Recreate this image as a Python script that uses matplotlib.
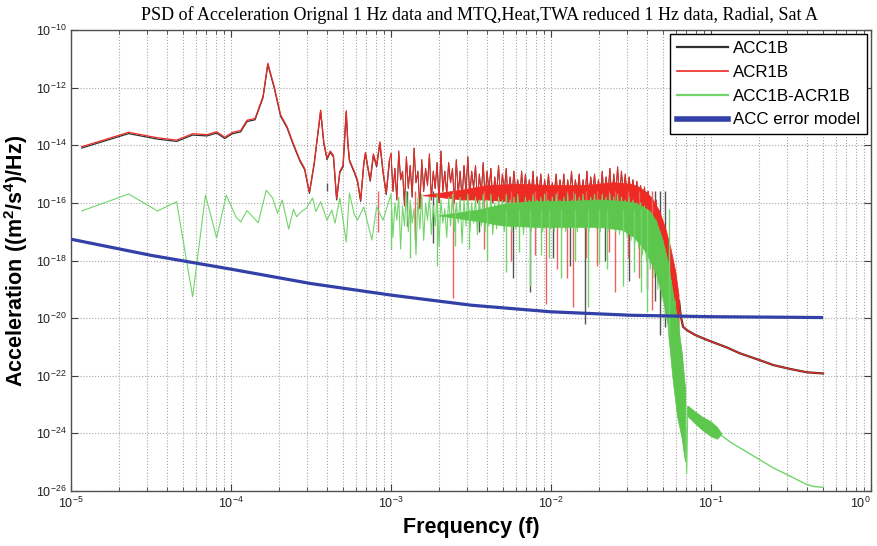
import numpy as np
import matplotlib
matplotlib.use("Agg")
import matplotlib.pyplot as plt
from matplotlib.ticker import LogLocator, FixedLocator, NullFormatter

plt.rcParams['font.family'] = ['Liberation Sans', 'DejaVu Sans']
plt.rcParams['mathtext.fontset'] = 'custom'
plt.rcParams['mathtext.rm'] = 'Liberation Sans'
plt.rcParams['mathtext.bf'] = 'Liberation Sans:bold'
plt.rcParams['mathtext.it'] = 'Liberation Sans:italic'

# ---------------- data (log10 of frequency [Hz] and log10 of PSD) ----------------
# ACR1B / ACC1B low-frequency part
acr1b_line_lf = [-4.933, -4.64, -4.46, -4.34, -4.24, -4.15, -4.09, -4.04, -3.99, -3.94,
                 -3.90, -3.85, -3.80, -3.77, -3.73, -3.69, -3.65, -3.61, -3.57, -3.54,
                 -3.51, -3.48, -3.44, -3.42, -3.40, -3.38, -3.36, -3.34, -3.32, -3.30,
                 -3.28, -3.27, -3.26, -3.23, -3.21, -3.19, -3.17, -3.16, -3.14, -3.13,
                 -3.11, -3.09, -3.07, -3.05, -3.03, -3.01]
acr1b_line_lp = [-14.05, -13.55, -13.74, -13.82, -13.60, -13.63, -13.53, -13.72, -13.55, -13.49,
                 -13.13, -13.07, -12.30, -11.15, -11.97, -12.95, -13.35, -13.95, -14.50, -14.80,
                 -15.62, -14.60, -12.78, -13.90, -14.45, -14.20, -14.35, -15.85, -14.90, -14.70,
                 -12.80, -13.90, -14.50, -14.90, -15.20, -15.90, -14.60, -14.25, -14.90, -15.20,
                 -14.30, -14.70, -13.88, -14.90, -15.66, -14.50]

# dense noisy region, shared frequency nodes (log10 Hz); values alternate peak / trough
dense_lf = [-3.000, -2.988, -2.976, -2.964, -2.952, -2.940, -2.928, -2.916, -2.904, -2.892,
            -2.880, -2.868, -2.856, -2.844, -2.832, -2.820, -2.808, -2.796, -2.784, -2.772,
            -2.760, -2.748, -2.736, -2.724, -2.712, -2.700, -2.688, -2.676, -2.664, -2.652,
            -2.640, -2.628, -2.616, -2.604, -2.592, -2.580, -2.568, -2.556, -2.544, -2.532,
            -2.520, -2.508, -2.496, -2.484, -2.472, -2.460, -2.448, -2.436, -2.424, -2.412,
            -2.400, -2.388, -2.376, -2.364, -2.352, -2.340, -2.328, -2.316, -2.304, -2.292,
            -2.280, -2.268, -2.256, -2.244, -2.232, -2.220, -2.208, -2.196, -2.184, -2.172,
            -2.160, -2.148, -2.136, -2.124, -2.112, -2.100, -2.088, -2.076, -2.064, -2.052,
            -2.040, -2.028, -2.016, -2.004, -1.992, -1.980, -1.968, -1.956, -1.944, -1.932,
            -1.920, -1.908, -1.896, -1.884, -1.872, -1.860, -1.848, -1.836, -1.824, -1.812,
            -1.800, -1.788, -1.776, -1.764, -1.752, -1.740, -1.728, -1.716, -1.704, -1.692,
            -1.680, -1.668, -1.656, -1.644, -1.632, -1.620, -1.608, -1.596, -1.584, -1.572,
            -1.560, -1.548, -1.536, -1.524, -1.512, -1.500, -1.488, -1.476, -1.464, -1.452,
            -1.440, -1.428, -1.416, -1.404, -1.392, -1.380, -1.368, -1.356, -1.344, -1.332,
            -1.320, -1.308, -1.296, -1.284, -1.272, -1.260, -1.248, -1.236, -1.224, -1.212,
            -1.200]
acr1b_dense_lp = [-14.3, -15.6, -14.8, -15.9, -14.2, -15.2, -14.9, -16.1, -14.4, -15.5,
                  -14.7, -15.8, -14.1, -15.3, -14.9, -16.2, -14.5, -15.6, -14.8, -15.4,
                  -14.3, -15.9, -14.9, -15.5, -14.6, -16.0, -14.2, -15.6, -14.9, -15.7,
                  -14.6, -15.3, -14.8, -16.0, -14.5, -15.7, -14.9, -15.9, -14.7, -15.6,
                  -14.4, -15.8, -14.9, -15.5, -14.7, -16.0, -15.0, -15.7, -14.6, -15.9,
                  -14.9, -15.6, -14.8, -16.0, -15.1, -15.7, -14.7, -15.9, -15.0, -15.6,
                  -14.8, -16.0, -15.1, -15.8, -14.9, -15.7, -15.2, -16.0, -14.9, -15.8,
                  -15.0, -15.9, -15.2, -15.7, -14.9, -16.1, -15.1, -15.8, -15.0, -15.9,
                  -15.2, -15.8, -15.0, -16.0, -15.3, -15.7, -15.0, -15.9, -15.2, -15.8,
                  -15.0, -16.0, -15.2, -15.8, -14.9, -15.9, -15.2, -15.7, -15.0, -16.0,
                  -15.2, -15.8, -14.9, -15.9, -15.1, -15.7, -15.0, -16.0, -15.2, -15.8,
                  -14.9, -15.9, -15.1, -15.7, -14.8, -16.0, -15.0, -15.8, -14.75, -15.9,
                  -14.9, -15.7, -15.0, -15.9, -15.1, -15.8, -15.2, -15.9, -15.25, -15.9,
                  -15.4, -16.2, -15.45, -16.4, -15.6, -16.6, -15.8, -16.9, -15.9, -17.2,
                  -16.3, -17.6, -16.8, -18.2, -17.3, -18.8, -17.9, -19.4, -18.6, -20.1,
                  -19.4]
diff_dense_lp = [-15.7, -17.2, -16.0, -16.6, -15.8, -17.6, -16.1, -16.8, -15.6, -17.0,
                 -15.9, -16.7, -16.2, -17.8, -15.8, -16.9, -15.7, -17.3, -16.0, -16.6,
                 -15.8, -17.1, -16.1, -16.8, -15.7, -17.5, -15.9, -16.7, -16.2, -17.2,
                 -15.8, -16.8, -15.7, -17.0, -16.0, -16.7, -15.8, -17.4, -15.9, -16.8,
                 -15.7, -17.0, -16.0, -16.7, -15.8, -17.1, -15.9, -16.8, -15.7, -17.0,
                 -15.9, -16.8, -15.7, -17.1, -16.0, -16.9, -15.8, -16.7, -15.9, -17.0,
                 -15.7, -16.8, -15.9, -17.0, -15.8, -16.9, -15.7, -16.8, -16.0, -17.1,
                 -15.8, -16.7, -15.9, -17.0, -15.7, -16.9, -15.9, -16.8, -15.8, -17.0,
                 -15.7, -16.8, -15.9, -16.9, -15.8, -17.0, -15.7, -16.8, -15.9, -16.9,
                 -15.8, -17.0, -15.7, -16.8, -15.9, -16.9, -15.7, -17.0, -15.8, -16.8,
                 -15.7, -16.9, -15.9, -17.0, -15.8, -16.8, -15.7, -16.9, -15.9, -17.0,
                 -15.7, -16.8, -15.8, -17.0, -15.7, -16.9, -15.8, -17.0, -15.7, -17.1,
                 -15.8, -17.0, -15.9, -17.2, -15.8, -17.3, -15.9, -17.4, -16.0, -17.6,
                 -16.0, -17.8, -16.1, -18.0, -16.3, -18.3, -16.4, -18.6, -16.6, -19.0,
                 -17.0, -19.4, -17.5, -20.0, -18.0, -20.8, -18.7, -21.8, -19.4, -22.7,
                 -20.0]

# solid core of the noisy bands (envelopes)
acr1b_core_lf = [-2.80, -2.55, -2.40, -2.20, -2.00, -1.80, -1.60, -1.50, -1.45, -1.40,
                 -1.36, -1.32, -1.28, -1.25, -1.22, -1.20]
acr1b_core_top = [-15.75, -15.55, -15.4, -15.35, -15.4, -15.4, -15.3, -15.35, -15.45, -15.65,
                  -15.9, -16.3, -16.95, -17.6, -18.4, -19.2]
acr1b_core_bot = [-15.75, -15.9, -15.9, -16.0, -16.1, -16.1, -16.1, -16.3, -16.6, -17.0,
                  -17.5, -18.2, -19.0, -19.6, -20.2, -20.6]
diff_core_lf = [-2.70, -2.45, -2.30, -2.10, -1.90, -1.70, -1.55, -1.48, -1.42, -1.38,
                -1.34, -1.30, -1.27, -1.24, -1.21, -1.18, -1.16]
diff_core_top = [-16.45, -16.25, -16.05, -15.95, -15.95, -15.9, -15.95, -16.0, -16.15, -16.3,
                 -16.65, -17.3, -18.0, -19.0, -20.0, -21.2, -22.4]
diff_core_bot = [-16.45, -16.65, -16.8, -16.85, -16.85, -16.85, -16.95, -17.2, -17.6, -18.0,
                 -18.5, -19.3, -20.2, -22.0, -23.4, -24.2, -25.0]

# ACR1B high-frequency tail
acr1b_tail_lf = [-1.200, -1.19, -1.175, -1.15, -1.10, -1.05, -0.99, -0.90, -0.82, -0.70, -0.61, -0.50, -0.40, -0.30]
acr1b_tail_lp = [-19.4, -19.9, -20.3, -20.42, -20.58, -20.70, -20.83, -21.02, -21.22, -21.45, -21.63, -21.77, -21.88, -21.92]

# downward spikes below the dense band
acr1b_spike_lf = [-3.08, -2.85, -2.61, -2.42, -2.25, -2.10, -2.03, -1.96, -1.90, -1.86,
                  -1.78, -1.71, -1.64, -1.60, -1.52, -1.45, -1.37]
acr1b_spike_lp = [-17.0, -17.3, -19.3, -17.6, -18.0, -17.8, -19.5, -18.3, -18.6, -19.6,
                  -17.9, -18.2, -17.7, -19.1, -17.9, -18.6, -19.7]
acc1b_spike_lf = [-3.40, -2.90, -2.74, -2.45, -2.24, -2.13, -1.99, -1.88, -1.79, -1.66,
                  -1.51, -1.40, -1.35, -1.32, -1.29]
acc1b_spike_lp = [-15.3, -16.8, -17.4, -17.0, -18.6, -19.1, -17.9, -18.2, -20.2, -18.0,
                  -18.7, -19.0, -19.4, -20.6, -20.3]

# ACC1B-ACR1B (difference)
diff_line_lf = [-4.933, -4.64, -4.46, -4.34, -4.24, -4.16, -4.09, -4.03, -3.97, -3.94,
                -3.90, -3.83, -3.78, -3.74, -3.71, -3.68, -3.64, -3.61, -3.59, -3.56,
                -3.53, -3.49, -3.47, -3.44, -3.40, -3.37, -3.35, -3.32, -3.28, -3.26,
                -3.23, -3.21, -3.17, -3.12, -3.09, -3.05]
diff_line_lp = [-16.28, -15.69, -16.28, -15.96, -19.26, -15.73, -17.22, -15.73, -16.48, -16.66,
                -16.27, -16.69, -15.56, -15.83, -16.36, -15.90, -16.91, -16.22, -16.48, -16.30,
                -16.19, -15.83, -16.30, -15.96, -16.60, -16.25, -16.70, -15.83, -17.36, -15.66,
                -16.40, -16.60, -16.14, -17.29, -16.14, -16.60]
diff_drop_lf = [-1.200, -1.19, -1.18, -1.17, -1.16, -1.152, -1.145]
diff_drop_lp = [-20.0, -23.2, -21.3, -24.3, -22.4, -25.4, -23.1]
diff_ripple_lf = [-1.145, -1.10, -1.05, -1.00, -0.96, -0.935]
diff_ripple_hi = [-23.05, -23.25, -23.45, -23.6, -23.8, -24.0]
diff_ripple_lo = [-23.4, -23.65, -23.9, -24.1, -24.2, -24.05]
diff_tail_lf = [-0.935, -0.88, -0.82, -0.76, -0.70, -0.61, -0.50, -0.40, -0.35, -0.30]
diff_tail_lp = [-24.07, -24.3, -24.5, -24.7, -24.9, -25.2, -25.5, -25.78, -25.85, -25.87]
diff_spike_lf = [-3.00, -2.88, -2.71, -2.60, -2.51, -2.40, -2.28, -2.20, -2.13, -2.06,
                 -2.01, -1.94, -1.85, -1.77, -1.70, -1.65, -1.55, -1.48, -1.44, -1.40, -1.26]
diff_spike_lp = [-17.6, -17.9, -18.2, -17.5, -17.6, -18.0, -18.4, -17.7, -18.9, -17.8,
                 -17.9, -18.6, -18.0, -19.6, -18.1, -18.3, -18.9, -18.4, -19.1, -19.8, -20.6]

# ACC error model
model_lf = [-5.0, -4.5, -4.0, -3.5, -3.0, -2.5, -2.0, -1.5, -1.0, -0.5, -0.30]
model_lp = [-17.26, -17.82, -18.30, -18.80, -19.20, -19.55, -19.78, -19.90, -19.95, -19.97, -19.98]

x_ticks_exp = [-5, -4, -3, -2, -1, 0]
y_ticks_exp = [-26, -24, -22, -20, -18, -16, -14, -12, -10]
legend_labels = ['ACC1B', 'ACR1B', 'ACC1B-ACR1B', 'ACC error model']
title_text = 'PSD of Acceleration Orignal 1 Hz data and MTQ,Heat,TWA reduced 1 Hz data, Radial, Sat A'

# ---------------- styling ----------------
C_BLACK = '#303030'
C_RED = '#ee2a24'
C_GREEN = '#72d46a'
C_GREEN_BAND = '#5cc74c'
C_BLUE = '#3340a8'


def p(a):
    return 10.0 ** np.asarray(a, dtype=float)


def core_polygon(lf, top, bot):
    return p(list(lf) + list(lf[::-1])), p(list(top) + list(bot[::-1]))


fig = plt.figure(figsize=(8.77, 5.46), dpi=100)
ax = fig.add_axes([0.081, 0.1007, 0.9122, 0.8443])
ax.set_xscale('log')
ax.set_yscale('log')

# ACC1B (black) - mostly hidden below ACR1B
ax.plot(p(acr1b_line_lf), p(acr1b_line_lp) * 0.9, color=C_BLACK, lw=0.9, zorder=2)
ax.plot(p(dense_lf), p(acr1b_dense_lp), color=C_BLACK, lw=0.7, zorder=2)
ax.vlines(p(acc1b_spike_lf), p(acc1b_spike_lp), p([-15.6] * len(acc1b_spike_lf)),
          color='#555555', lw=1.0, zorder=2)
ax.plot(p(acr1b_tail_lf), p(acr1b_tail_lp), color=C_BLACK, lw=1.6, zorder=2)

# ACR1B (red)
ax.plot(p(acr1b_line_lf + dense_lf[:1]), p(acr1b_line_lp + acr1b_dense_lp[:1]),
        color=C_RED, lw=0.9, zorder=2.2)
ax.plot(p(dense_lf), p(acr1b_dense_lp), color=C_RED, lw=0.7, zorder=2.2)
rx, ry = core_polygon(acr1b_core_lf, acr1b_core_top, acr1b_core_bot)
ax.fill(rx, ry, facecolor=C_RED, edgecolor=C_RED, lw=0.5, zorder=2.2)
ax.vlines(p(acr1b_spike_lf), p(acr1b_spike_lp), p([-15.6] * len(acr1b_spike_lf)),
          color='#f06060', lw=1.0, zorder=2.2)
ax.plot(p(acr1b_tail_lf), p(acr1b_tail_lp), color=C_RED, lw=0.9, zorder=2.3)

# ACC1B-ACR1B (green)
g_lf = diff_line_lf + dense_lf + diff_drop_lf
g_lp = diff_line_lp + diff_dense_lp + diff_drop_lp
ax.plot(p(g_lf), p(g_lp), color=C_GREEN, lw=0.8, zorder=3)
gx, gy = core_polygon(diff_core_lf, diff_core_top, diff_core_bot)
ax.fill(gx, gy, facecolor=C_GREEN_BAND, edgecolor=C_GREEN_BAND, lw=0.5, zorder=3)
ax.vlines(p(diff_spike_lf), p(diff_spike_lp), p([-16.2] * len(diff_spike_lf)),
          color=C_GREEN, lw=1.0, zorder=3)
rip_x = diff_ripple_lf + diff_ripple_lf[::-1]
rip_y = diff_ripple_hi + diff_ripple_lo[::-1]
ax.fill(p(rip_x), p(rip_y), facecolor=C_GREEN_BAND, edgecolor=C_GREEN_BAND, lw=0.7, zorder=3)
ax.plot(p(diff_tail_lf), p(diff_tail_lp), color=C_GREEN, lw=1.0, zorder=3)

# ACC error model (blue)
ax.plot(p(model_lf), p(model_lp), color=C_BLUE, lw=2.3, zorder=5, solid_capstyle='butt')

# legend proxies
h1, = ax.plot([], [], color=C_BLACK, lw=1.6)
h2, = ax.plot([], [], color=C_RED, lw=1.2)
h3, = ax.plot([], [], color=C_GREEN, lw=1.6)
h4, = ax.plot([], [], color=C_BLUE, lw=4.0)
leg = ax.legend([h1, h2, h3, h4], legend_labels, loc='upper right', fontsize=12.2,
                frameon=True, fancybox=False, edgecolor='black', framealpha=1,
                handlelength=3.0, handletextpad=0.3, labelspacing=0.52,
                borderpad=0.4, borderaxespad=0.25)
leg.get_frame().set_linewidth(1.0)
leg.set_zorder(10)

# axes / ticks
ax.set_xlim(1e-5, 1e0)
ax.set_ylim(1e-26, 1e-10)
ax.xaxis.set_major_locator(FixedLocator(p(x_ticks_exp)))
ax.set_xticklabels([r'$10^{%d}$' % e for e in x_ticks_exp])
ax.xaxis.set_minor_locator(LogLocator(base=10, subs=np.arange(2, 10), numticks=20))
ax.xaxis.set_minor_formatter(NullFormatter())
ax.yaxis.set_major_locator(FixedLocator(p(y_ticks_exp)))
ax.set_yticklabels([r'$10^{%d}$' % e for e in y_ticks_exp])
ax.yaxis.set_minor_locator(FixedLocator([]))
ax.tick_params(which='both', direction='in', top=True, right=True, colors='#404040',
               labelcolor='#202020', labelsize=9)
ax.tick_params(which='major', length=5)
ax.tick_params(which='minor', length=3)
ax.get_xticklabels()[-1].set_horizontalalignment('right')
ax.grid(True, which='major', axis='both', linestyle=':', color='#a8a8a8', lw=0.8)
ax.grid(True, which='minor', axis='x', linestyle=':', color='#a8a8a8', lw=0.8)
ax.set_axisbelow(True)
for s in ax.spines.values():
    s.set_color('#505050')
    s.set_linewidth(1.0)

ax.set_xlabel('Frequency (f)', fontsize=15.5, fontweight='bold', labelpad=4)
ax.set_ylabel(r'Acceleration ((m$^\mathbf{2}$/s$^\mathbf{4}$)/Hz)', fontsize=15.5,
              fontweight='bold', labelpad=4)
ax.set_title(title_text, fontsize=13, family=['Liberation Serif', 'DejaVu Serif'],
             pad=7, x=0.51)

fig.savefig('out.png', dpi=100)
